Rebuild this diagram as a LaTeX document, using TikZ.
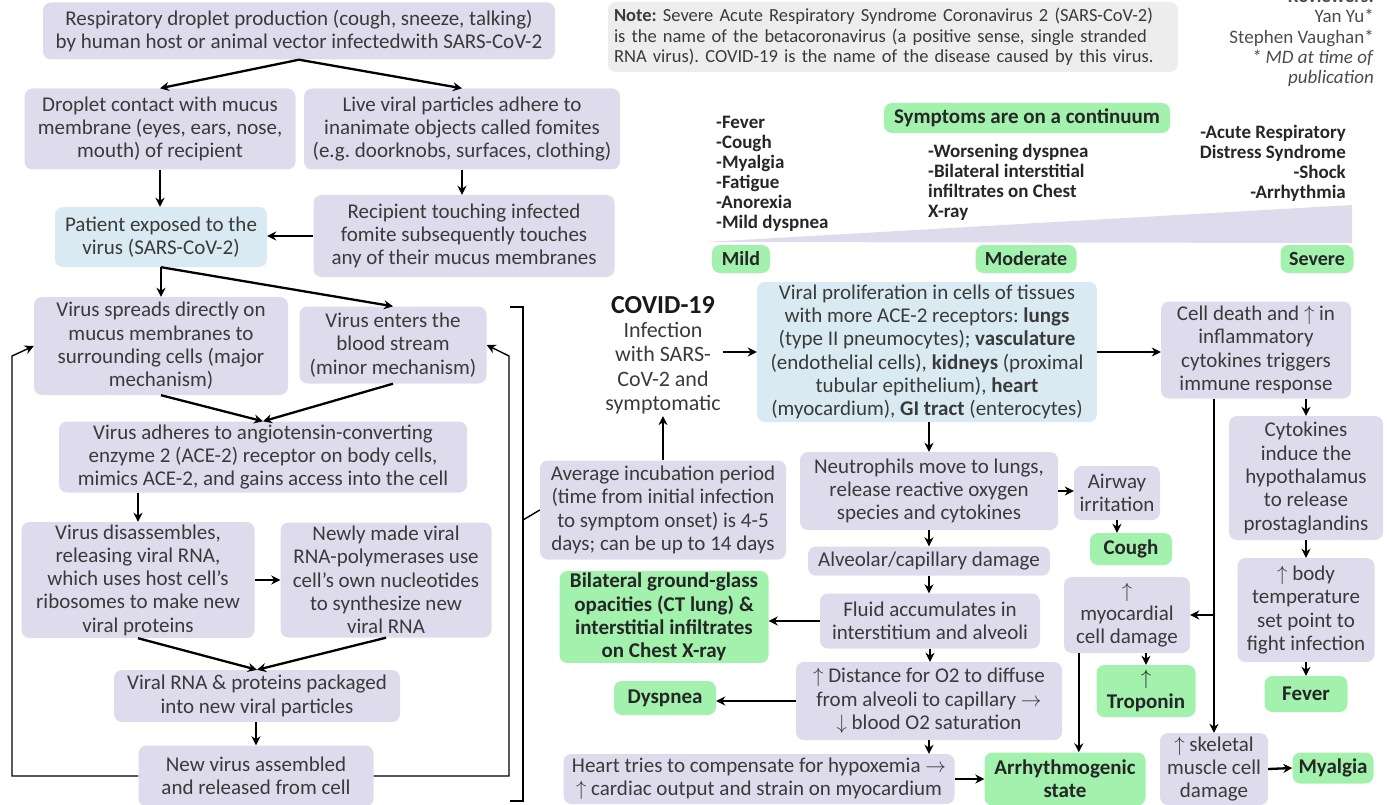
\documentclass[tikz,border=0pt]{standalone}
\usepackage{fontspec}
\setmainfont{Carlito}
\usetikzlibrary{arrows.meta}
\definecolor{lav}{HTML}{DEDBEC}
\definecolor{blu}{HTML}{DAEAF3}
\definecolor{grn}{HTML}{A2F2AE}
\definecolor{notegray}{HTML}{EDEDED}
\definecolor{txt}{HTML}{3A3A3A}
\begin{document}
\frenchspacing
\begin{tikzpicture}[x=1pt,y=-1pt,>={Stealth[length=9pt,width=9pt]},
  every node/.style={font=\fontsize{21}{23.3}\selectfont,text=txt},
  lbox/.style={fill=lav,rounded corners=8pt,align=center,inner sep=2pt},
  bbox/.style={lbox,fill=blu},
  gbox/.style={lbox,fill=grn,text=black!85,font=\fontsize{21}{23.3}\selectfont\bfseries},
  list/.style={font=\fontsize{19}{20}\selectfont\bfseries,text=black!85,inner sep=0pt},
  arr/.style={->,line width=2.3pt},
  thin/.style={line width=1.4pt}]
\useasboundingbox (0,0) rectangle (1389,805);
% left column: transmission and replication
\node (top) at (299,31)[lbox,minimum width=512pt,minimum height=57pt]{Respiratory droplet production (cough, sneeze, talking)\\by human host or animal vector infectedwith SARS-CoV-2};
\node (droplet) at (160,129)[lbox,minimum width=271pt,minimum height=81pt]{Droplet contact with mucus\\membrane (eyes, ears, nose,\\mouth) of recipient};
\node (live) at (462,129)[lbox,minimum width=316pt,minimum height=81pt]{Live viral particles adhere to\\inanimate objects called fomites\\(e.g. doorknobs, surfaces, clothing)};
\node (patient) at (161,237)[bbox,minimum width=212pt,minimum height=60pt]{Patient exposed to the\\virus (SARS-CoV-2)};
\node (recipient) at (464,236)[lbox,minimum width=301pt,minimum height=82pt]{Recipient touching infected\\fomite subsequently touches\\any of their mucus membranes};
\node (spreads) at (161,346)[lbox,minimum width=254pt,minimum height=98pt]{Virus spreads directly on\\mucus membranes to\\surrounding cells (major\\mechanism)};
\node (enters) at (393,345)[lbox,minimum width=187pt,minimum height=77pt]{Virus enters the\\blood stream\\(minor mechanism)};
\node (adheres) at (263,457)[lbox,minimum width=408pt,minimum height=71pt]{Virus adheres to angiotensin-converting\\enzyme 2 (ACE-2) receptor on body cells,\\mimics ACE-2, and gains access into the cell};
\node (disasm) at (138,580)[lbox,minimum width=233pt,minimum height=116pt]{Virus disassembles,\\releasing viral RNA,\\which uses host cell’s\\ribosomes to make new\\viral proteins};
\node (newly) at (386,580)[lbox,minimum width=211pt,minimum height=115pt]{Newly made viral\\RNA-polymerases use\\cell’s own nucleotides\\to synthesize new\\viral RNA};
\node (packaged) at (257,696)[lbox,minimum width=286pt,minimum height=52pt]{Viral RNA \& proteins packaged\\into new viral particles};
\node (assembled) at (256,776)[lbox,minimum width=235pt,minimum height=61pt]{New virus assembled\\and released from cell};
\draw[arr] (top.south) -- (droplet.north);
\draw[arr] (top.south) -- (live.north);
\draw[arr] (droplet.south) -- (patient.north -| droplet.south);
\draw[arr] (live.south) -- (recipient.north -| live.south);
\draw[arr] (recipient.west) -- (recipient.west -| patient.east);
\draw[arr] (patient.south) -- (patient.south |- spreads.north);
\draw[arr] (patient.south) -- (enters.north);
\draw[arr] (spreads.south) -- (adheres.north);
\draw[arr] (enters.south) -- (adheres.north);
\draw[arr] (disasm.north |- adheres.south) -- (disasm.north);
\draw[arr] (disasm.east) -- (newly.west);
\draw[arr] (disasm.south) -- (packaged.north);
\draw[arr] (newly.south) -- (packaged.north);
\draw[arr] (packaged.south -| assembled.north) -- (assembled.north);
\coordinate (lpL) at (12,356); \coordinate (lpR) at (509,356);
\draw[->,thin] (assembled.west) -| (lpL) -- (spreads.west);
\draw[->,thin] (assembled.east) -| (lpR) -- (enters.east);
% bracket to incubation
\node (incub) at (663,510)[lbox,minimum width=246pt,minimum height=99pt]{Average incubation period\\(time from initial infection\\to symptom onset) is 4-5\\days; can be up to 14 days};
\draw[thin] (510,307) -- (523,307) -- (523,801) -- (510,801);
\draw[thin] (523,520) -- (incub.west);
% note and reviewers
\node (note) at (893,37)[lbox,fill=notegray,font=\fontsize{18.5}{20.3}\selectfont,align=left,text width=558pt,minimum height=70pt,inner xsep=6pt]{\textbf{Note:} Severe Acute Respiratory Syndrome Coronavirus 2 (SARS-CoV-2)\\is the name of the betacoronavirus (a positive sense, single stranded\\RNA virus). COVID-19 is the name of the disease caused by this virus.};
\node (review) at (1374,38)[anchor=east,align=right,font=\fontsize{19}{20.3}\selectfont,text=black!70,inner sep=0pt]{\textbf{Reviewers:}\\Yan Yu*\\Stephen Vaughan*\\\textit{* MD at time of}\\\textit{publication}};
% symptom continuum
\node (contin) at (1027,118)[gbox,font=\fontsize{21}{23}\selectfont\bfseries,minimum width=286pt,minimum height=30pt]{Symptoms are on a continuum};
\fill[lav] (706,242) -- (1352,205) -- (1352,243) -- cycle;
\node (mildlist) at (716,174)[anchor=west,align=left,list]{-Fever\\-Cough\\-Myalgia\\-Fatigue\\-Anorexia\\-Mild dyspnea};
\node (modlist) at (928,182)[anchor=west,align=left,list]{-Worsening dyspnea\\-Bilateral interstitial\\infiltrates on Chest\\X-ray};
\node (sevlist) at (1346,163)[anchor=east,align=right,list]{-Acute Respiratory\\Distress Syndrome\\-Shock\\-Arrhythmia};
\node (mild) at (741,259)[gbox,font=\fontsize{20}{22}\selectfont\bfseries,minimum width=58pt,minimum height=28pt]{Mild};
\node (moderate) at (1026,259)[gbox,font=\fontsize{20}{22}\selectfont\bfseries,minimum width=101pt,minimum height=28pt]{Moderate};
\node (severe) at (1317,259)[gbox,font=\fontsize{20}{22}\selectfont\bfseries,minimum width=73pt,minimum height=28pt]{Severe};
% disease course
\node (covid) at (663,355)[align=center,inner sep=2pt,font=\fontsize{22}{24.3}\selectfont]{{\fontsize{26}{27}\selectfont\bfseries\color{black!90}COVID-19}\\Infection\\with SARS-\\CoV-2 and\\symptomatic};
\node (viral) at (927,352)[bbox,minimum width=340pt,minimum height=140pt]{Viral proliferation in cells of tissues\\with more ACE-2 receptors: \textbf{lungs}\\(type II pneumocytes); \textbf{vasculature}\\(endothelial cells), \textbf{kidneys} (proximal\\tubular epithelium), \textbf{heart}\\(myocardium), \textbf{GI tract} (enterocytes)};
\node (celldeath) at (1256,350)[lbox,minimum width=190pt,minimum height=97pt]{Cell death and $\uparrow$ in\\inflammatory\\cytokines triggers\\immune response};
\node (neutro) at (929,491)[lbox,minimum width=258pt,minimum height=78pt]{Neutrophils move to lungs,\\release reactive oxygen\\species and cytokines};
\node (airway) at (1117,493)[lbox,minimum width=86pt,minimum height=54pt]{Airway\\irritation};
\node (cough) at (1131,549)[gbox,minimum width=82pt,minimum height=32pt]{Cough};
\node (alveolar) at (929,561)[lbox,minimum width=242pt,minimum height=29pt]{Alveolar/capillary damage};
\node (fluid) at (930,621)[lbox,minimum width=220pt,minimum height=55pt]{Fluid accumulates in\\interstitium and alveoli};
\node (bilateral) at (664,617)[gbox,minimum width=209pt,minimum height=91pt]{Bilateral ground-glass\\opacities (CT lung) \&\\interstitial infiltrates\\on Chest X-ray};
\node (distance) at (929,701)[lbox,minimum width=266pt,minimum height=78pt]{$\uparrow$ Distance for O2 to diffuse\\from alveoli to capillary $\rightarrow$\\$\downarrow$ blood O2 saturation};
\node (dyspnea) at (665,698)[gbox,minimum width=102pt,minimum height=34pt]{Dyspnea};
\node (heart) at (759,779)[lbox,minimum width=391pt,minimum height=50pt]{Heart tries to compensate for hypoxemia $\rightarrow$\\$\uparrow$ cardiac output and strain on myocardium};
\node (arrhyth) at (1065,779)[gbox,minimum width=161pt,minimum height=53pt]{Arrhythmogenic\\state};
\node (myocard) at (1127,615)[lbox,minimum width=126pt,minimum height=76pt]{$\uparrow$\\myocardial\\cell damage};
\node (troponin) at (1146,691)[gbox,minimum width=99pt,minimum height=52pt]{$\uparrow$\\Troponin};
\node (skeletal) at (1214,769)[lbox,minimum width=108pt,minimum height=72pt]{$\uparrow$ skeletal\\muscle cell\\damage};
\node (myalgia) at (1333,768)[gbox,minimum width=81pt,minimum height=31pt]{Myalgia};
\node (cytok) at (1306,478)[lbox,minimum width=154pt,minimum height=124pt]{Cytokines\\induce the\\hypothalamus\\to release\\prostaglandins};
\node (bodytemp) at (1306,610)[lbox,minimum width=137pt,minimum height=104pt]{$\uparrow$ body\\temperature\\set point to\\fight infection};
\node (fever) at (1306,694)[gbox,minimum width=83pt,minimum height=36pt]{Fever};
\draw[arr] (incub.north) -- (covid.south -| incub.north);
\draw[arr] (viral.west -| covid.east) -- (viral.west);
\draw[arr] (viral.east) -- (viral.east -| celldeath.west);
\draw[arr] (viral.south -| neutro.north) -- (neutro.north);
\draw[arr] (neutro.east) -- (neutro.east -| airway.west);
\draw[arr] (airway.south) -- (airway.south |- cough.north);
\draw[arr] (neutro.south) -- (alveolar.north);
\draw[arr] (alveolar.south) -- (fluid.north -| alveolar.south);
\draw[arr] (fluid.west) -- (fluid.west -| bilateral.east);
\draw[arr] (fluid.south) -- (distance.north -| fluid.south);
\draw[arr] (distance.west) -- (distance.west -| dyspnea.east);
\draw[arr] (distance.south) -- (distance.south |- heart.north);
\draw[arr] (heart.east) -- (arrhyth.west);
\draw[arr] ([xshift=15pt]myocard.south west) -- ([xshift=15pt]myocard.south west |- arrhyth.north);
\draw[arr] (myocard.south -| troponin.north) -- (troponin.north);
\draw[arr] (skeletal.north |- celldeath.south) -- (skeletal.north);
\draw[arr] (skeletal.north |- myocard.east) -- (myocard.east);
\draw[arr] (skeletal.east) -- (myalgia.west);
\draw[arr] (cytok.north |- celldeath.south) -- (cytok.north);
\draw[arr] (cytok.south) -- (bodytemp.north);
\draw[arr] (bodytemp.south) -- (fever.north);
\end{tikzpicture}
\end{document}
